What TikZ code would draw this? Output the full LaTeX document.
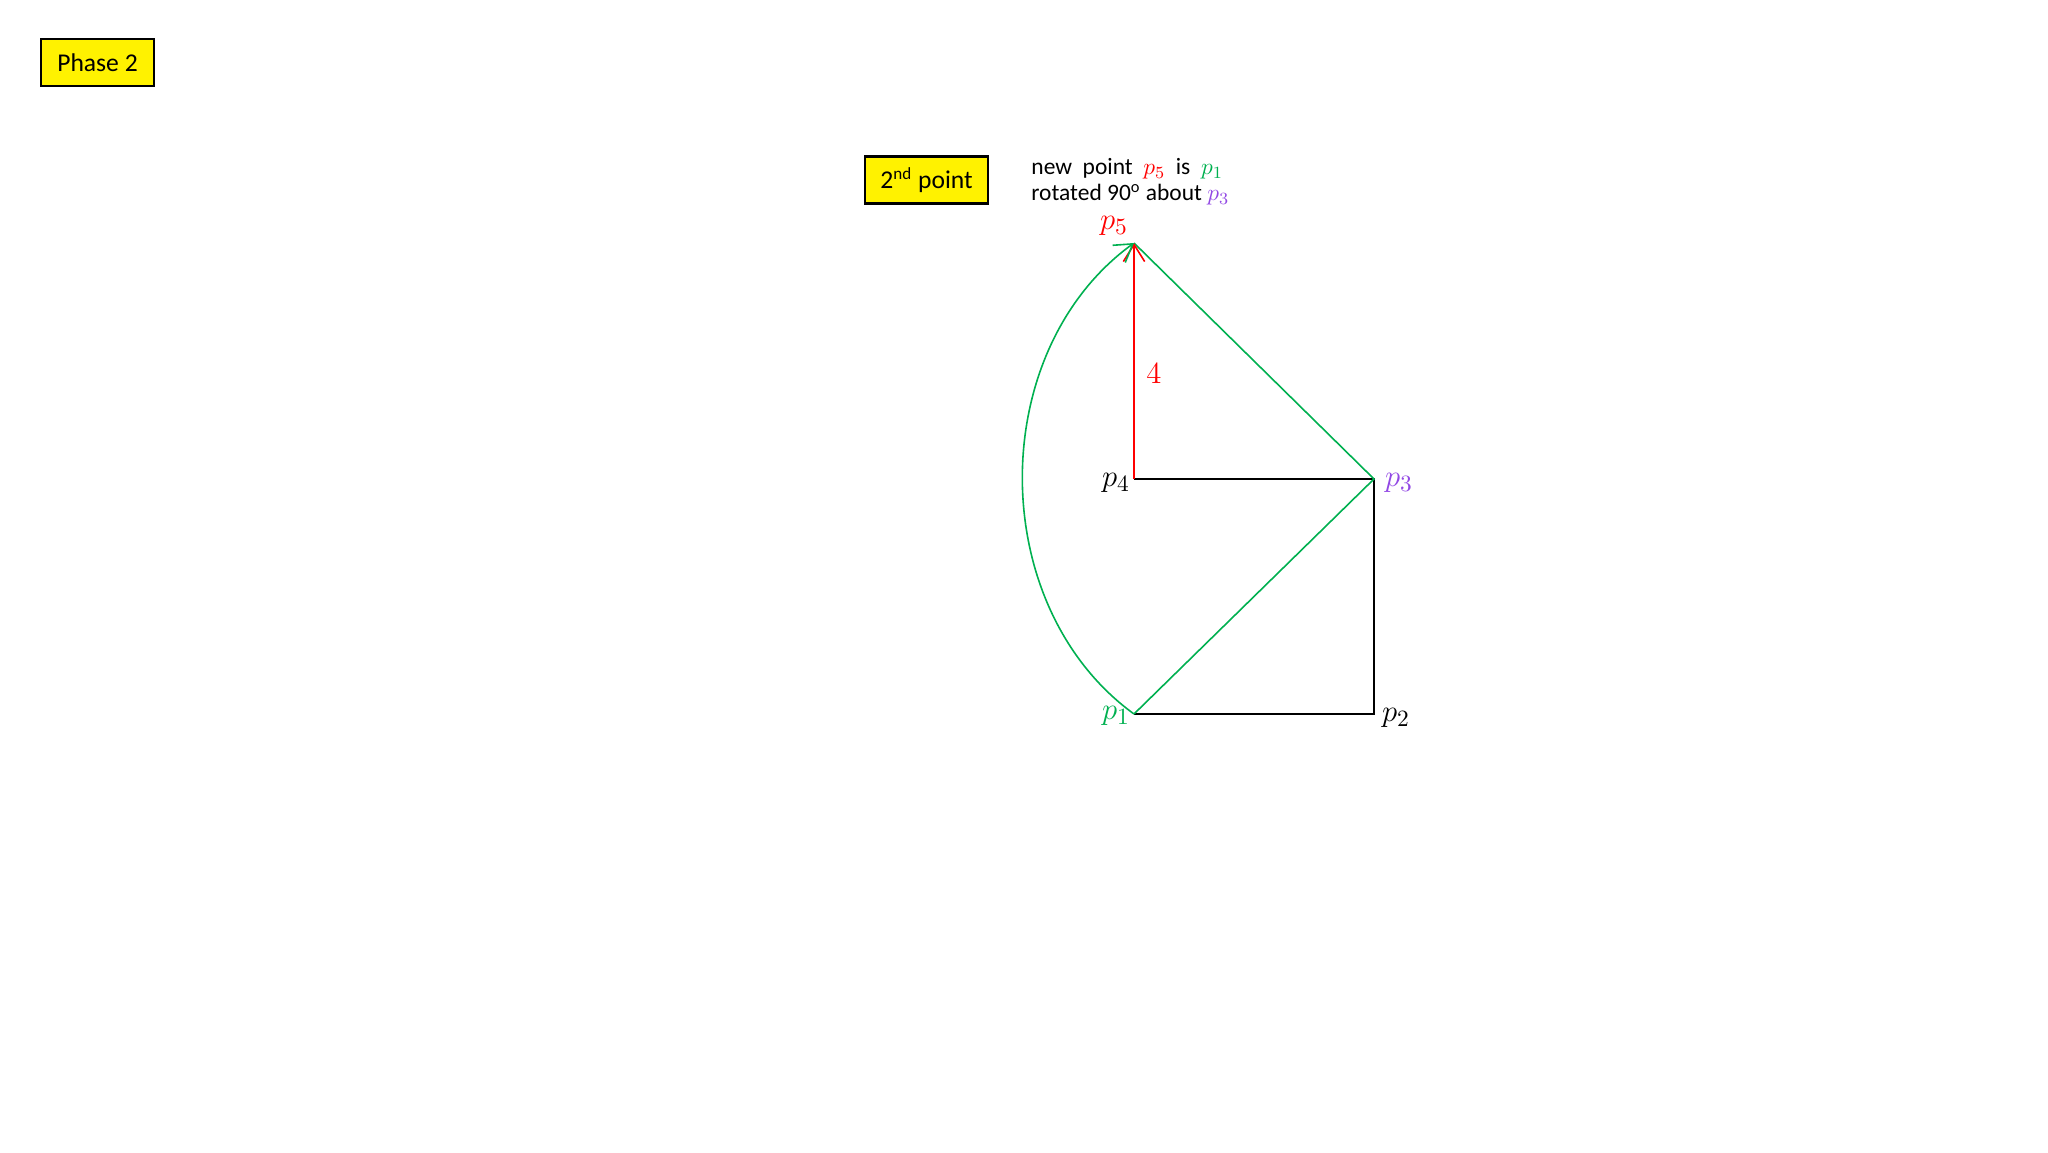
\documentclass[tikz,border=0pt]{standalone}
\usepackage{fontspec}
\setmainfont{Carlito}
\usetikzlibrary{arrows.meta}
\definecolor{pgreen}{RGB}{0,176,80}
\definecolor{ppurple}{RGB}{146,72,228}
\tikzset{
  tagbox/.style={draw=black,line width=1pt,fill=yellow,minimum height=22pt,
    inner sep=2pt,font=\fontsize{12}{14}\selectfont},
  blkline/.style={draw=black,line width=0.95pt},
  grnline/.style={draw=pgreen,line width=0.75pt},
  redline/.style={draw=red,line width=0.75pt},
  barb/.style={-{Straight Barb[length=8pt,width=10pt]}},
  ptlabel/.style={inner sep=0pt,font=\fontsize{15}{17}\selectfont}
}

\begin{document}
\begin{tikzpicture}[x=0.4688pt,y=0.4688pt]
    \useasboundingbox (0,0) rectangle (2048,1152);
    % title boxes
    \node[tagbox,minimum width=53pt] (phase) at (97.5,1089.5) {Phase 2};
    \node[tagbox,minimum width=57.7pt] (second) at (926.5,972) {2\textsuperscript{nd} point};
    \node[anchor=north west,align=left,inner sep=0pt,
      font=\fontsize{11}{12.3}\selectfont] (note) at (1031,994) {%
      new\ \ point\ \ \textcolor{red}{$p_5$}\ \ is\ \ \textcolor{pgreen}{$p_1$}\\
      rotated 90\textsuperscript{o} about \textcolor{ppurple}{$p_3$}};
    %
    \coordinate (p1) at (1134,438);
    \coordinate (p2) at (1374,438);
    \coordinate (p3) at (1374,673);
    \coordinate (p4) at (1134,673);
    \coordinate (p5) at (1134,909);
    %
    \draw[blkline] (p4) -- (p3) -- (p2) -- (p1);
    \draw[grnline] (p1) -- (p3) -- (p5);
    \draw[redline,barb] (p4) -- (p5);
    \draw[grnline,barb] (p1) to[bend left=54] (p5);
    %
    \node[ptlabel,text=red] (l5) at (1114,926) {$p_5$};
    \node[ptlabel] (l4) at (1116,669) {$p_4$};
    \node[ptlabel,text=ppurple] (l3) at (1399,669) {$p_3$};
    \node[ptlabel,text=pgreen] (l1) at (1116,436) {$p_1$};
    \node[ptlabel] (l2) at (1396,434) {$p_2$};
    \node[ptlabel,text=red] (len) at (1154,778) {$4$};
\end{tikzpicture}
\end{document}
